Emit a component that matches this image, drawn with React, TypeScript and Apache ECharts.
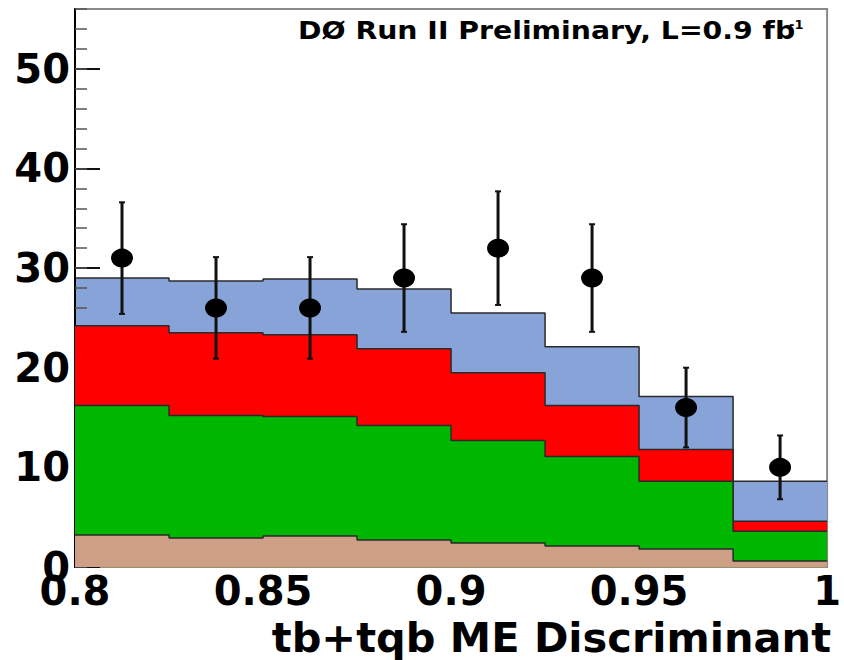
import React, { useEffect, useRef } from "react";
import * as echarts from "echarts";

// Bin edges and centres of the discriminant histogram
const binEdges = [0.8, 0.825, 0.85, 0.875, 0.9, 0.925, 0.95, 0.975, 1.0];
const binCenters = [0.8125, 0.8375, 0.8625, 0.8875, 0.9125, 0.9375, 0.9625, 0.9875];

// Stacked background / signal components (per bin)
const tanValues = [3.2, 2.9, 3.1, 2.7, 2.4, 2.1, 1.8, 0.6];
const greenValues = [13.0, 12.3, 12.0, 11.5, 10.3, 9.0, 6.8, 3.0];
const redValues = [8.0, 8.3, 8.2, 7.7, 6.8, 5.1, 3.2, 1.0];
const blueValues = [4.8, 5.2, 5.6, 6.0, 6.0, 5.9, 5.3, 4.0];

// Data points and their errors
const dataCounts = [31, 26, 26, 29, 32, 29, 16, 10];
const dataErrors = [5.6, 5.1, 5.1, 5.4, 5.7, 5.4, 4.0, 3.2];

// Axis ticks
const yMajorTicks = [0, 10, 20, 30, 40, 50];
const yMinorTicks = [0, 2, 4, 6, 8, 10, 12, 14, 16, 18, 20, 22, 24, 26, 28, 30, 32, 34, 36, 38, 40, 42, 44, 46, 48, 50, 52, 54, 56];
const xTickLabels = [0.8, 0.85, 0.9, 0.95, 1];

const FONT = "DejaVu Sans";

// cumulative sums of the stack (ROOT THStack style: draw totals back to front)
function cumulative(layers: number[][]): number[][] {
  const out: number[][] = [];
  let acc = layers[0].map(() => 0);
  for (const l of layers) {
    acc = acc.map((a, i) => a + l[i]);
    out.push(acc.slice());
  }
  return out;
}

function stepData(vals: number[]) {
  return binEdges.map((e, i) => [e, vals[Math.min(i, vals.length - 1)]]);
}

export default function App() {
  const ref = useRef<HTMLDivElement>(null);

  useEffect(() => {
    if (!ref.current) return;
    const chart = echarts.init(ref.current, undefined, { renderer: "svg" });

    const [tanTot, greenTot, redTot, blueTot] = cumulative([tanValues, greenValues, redValues, blueValues]);

    const outline = { color: "#2a2a2a", width: 1.5 };
    const histSeries = (name: string, vals: number[], color: string, z: number) => ({
      name,
      type: "line",
      step: "end",
      data: stepData(vals),
      symbol: "none",
      showSymbol: false,
      lineStyle: outline,
      areaStyle: { color, opacity: 1, origin: "start" },
      z,
      silent: true,
    });

    const option: any = {
      animation: false,
      backgroundColor: "#fff",
      grid: {
        left: 75,
        right: 11,
        top: 9,
        bottom: 93,
        show: true,
        borderColor: "#8a8a8a",
        borderWidth: 2,
        backgroundColor: "transparent",
      },
      xAxis: {
        type: "value",
        min: 0.8,
        max: 1,
        interval: 0.05,
        axisLine: { show: true, lineStyle: { color: "#9a9070", width: 1 } },
        axisTick: { show: false },
        splitLine: { show: false },
        axisLabel: {
          customValues: xTickLabels,
          fontFamily: FONT,
          fontWeight: "bold",
          fontSize: 40,
          color: "#000",
          margin: 4,
          formatter: (v: number) => String(+v.toFixed(2)),
        },
      },
      yAxis: [
        {
          type: "value",
          min: 0,
          max: 56,
          position: "left",
          z: 1.5,
          axisLine: { show: true, lineStyle: { color: "#000", width: 2 } },
          axisTick: {
            show: true,
            inside: true,
            length: 25,
            customValues: yMajorTicks,
            lineStyle: { color: "#111", width: 2 },
          },
          axisLabel: {
            customValues: yMajorTicks,
            fontFamily: FONT,
            fontWeight: "bold",
            fontSize: 40,
            color: "#000",
            margin: 5,
          },
          splitLine: { show: false },
        },
        {
          type: "value",
          min: 0,
          max: 56,
          position: "left",
          z: 1.5,
          axisLine: { show: false },
          axisTick: {
            show: true,
            inside: true,
            length: 12,
            customValues: yMinorTicks,
            lineStyle: { color: "#555", width: 1.5 },
          },
          axisLabel: { show: false },
          splitLine: { show: false },
        },
      ],
      series: [
        histSeries("blue", blueTot, "#87A3D8", 1),
        histSeries("red", redTot, "#FF0000", 2),
        histSeries("green", greenTot, "#00B700", 2.1),
        histSeries("tan", tanTot, "#CDA085", 2.2),
        {
          name: "errors",
          type: "custom",
          z: 10,
          silent: true,
          data: binCenters.map((c, i) => [c, dataCounts[i], dataErrors[i]]),
          encode: { x: 0, y: 1 },
          renderItem: (params: any, api: any) => {
            const x = api.value(0);
            const y = api.value(1);
            const e = api.value(2);
            const top = api.coord([x, y + e]);
            const bot = api.coord([x, y - e]);
            const stroke = { stroke: "#111", lineWidth: 3 };
            const cap = { stroke: "#111", lineWidth: 2 };
            return {
              type: "group",
              children: [
                { type: "line", shape: { x1: top[0], y1: top[1], x2: bot[0], y2: bot[1] }, style: stroke },
                { type: "line", shape: { x1: top[0] - 3, y1: top[1], x2: top[0] + 3, y2: top[1] }, style: cap },
                { type: "line", shape: { x1: bot[0] - 3, y1: bot[1], x2: bot[0] + 3, y2: bot[1] }, style: cap },
              ],
            };
          },
        },
        {
          name: "data",
          type: "scatter",
          z: 11,
          silent: true,
          symbol: "circle",
          symbolSize: [22, 19],
          itemStyle: { color: "#000", opacity: 1 },
          data: binCenters.map((c, i) => [c, dataCounts[i]]),
        },
      ],
      graphic: [
        {
          type: "text",
          x: 298,
          y: 31,
          scaleX: 1.18,
          style: {
            text: "DØ Run II Preliminary, L=0.9 fb",
            fontFamily: FONT,
            fontWeight: "bold",
            fontSize: 24,
            fill: "#000",
            align: "left",
            verticalAlign: "middle",
          },
        },
        {
          type: "text",
          x: 789,
          y: 24,
          style: {
            text: "-1",
            fontFamily: FONT,
            fontWeight: "bold",
            fontSize: 13,
            fill: "#000",
            align: "left",
            verticalAlign: "middle",
          },
        },
        {
          type: "text",
          x: 831,
          y: 637,
          style: {
            text: "tb+tqb ME Discriminant",
            fontFamily: FONT,
            fontWeight: "bold",
            fontSize: 41.5,
            fill: "#000",
            align: "right",
            verticalAlign: "middle",
          },
        },
      ],
    };

    chart.setOption(option);
    return () => chart.dispose();
  }, []);

  return (
    <div
      ref={ref}
      style={{ position: "fixed", left: 0, top: 0, width: 844, height: 660, background: "#fff" }}
    />
  );
}
